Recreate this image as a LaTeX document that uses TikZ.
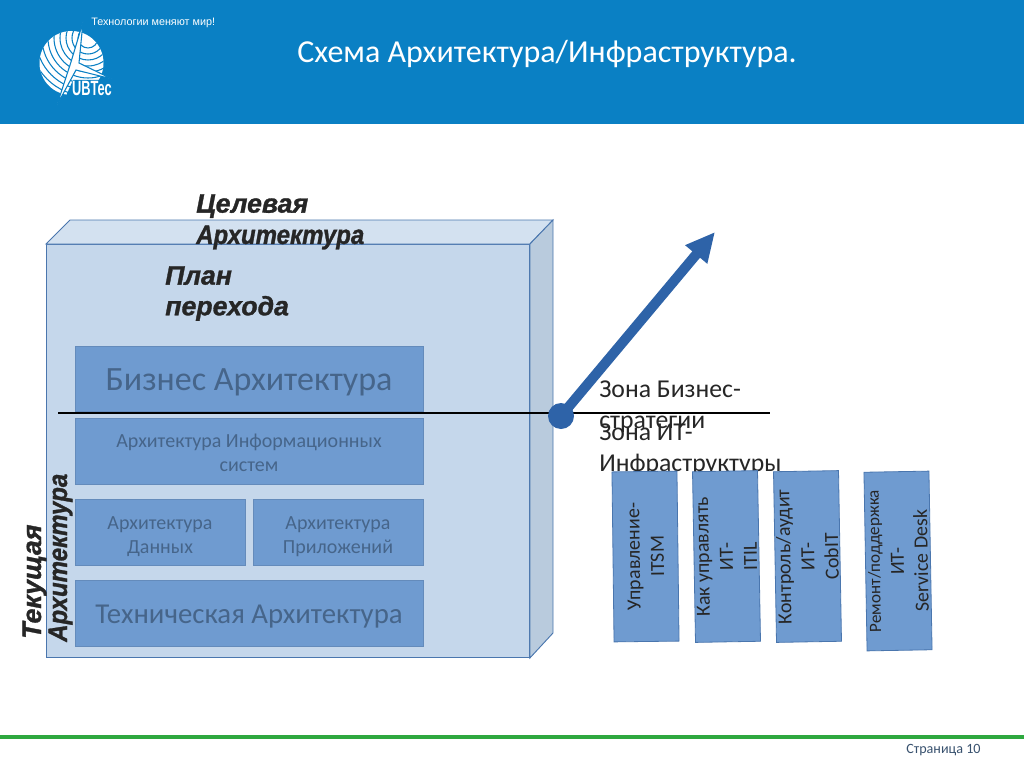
\documentclass[tikz,border=0pt]{standalone}
\usepackage{fontspec}
\usepackage{graphicx}
\setmainfont{Carlito}
\newfontfamily\headfont{Liberation Sans}
\newfontfamily\capfont[BoldItalicFeatures={FakeBold=1.2}]{Liberation Sans}
\usepackage{xcolor}
\usetikzlibrary{arrows.meta, positioning, calc}
\definecolor{headblue}{HTML}{0A80C4}
\definecolor{edgeblue}{HTML}{4A76AE}
\definecolor{frontblue}{HTML}{C5D7EB}
\definecolor{topblue}{HTML}{D3E1F0}
\definecolor{sideblue}{HTML}{B9CBDD}
\definecolor{layerblue}{HTML}{6F9BD0}
\definecolor{layertext}{HTML}{46658A}
\definecolor{dotblue}{HTML}{2E63A8}
\definecolor{darktext}{HTML}{262626}
\definecolor{footgreen}{HTML}{2EA83F}
\newcommand{\narrowcap}[1]{\scalebox{0.9}[1]{#1}}
\tikzset{
    layer/.style={rectangle, fill=layerblue, draw=layerblue!90!black, line width=0.4pt,
                  inner sep=0pt},
    layertxt/.style={align=center, text=layertext, inner sep=0pt},
    midfont/.style={font=\fontsize{15}{18}\selectfont},
    smallbox/.style={layer, align=center, text=darktext, minimum width=127.5pt, minimum height=48.75pt,
                  line width=0.6pt, draw=edgeblue, font=\fontsize{15}{18}\selectfont},
    slanted/.style={font=\capfont\bfseries\itshape\fontsize{20}{23.5}\selectfont,
                  text=darktext, align=left, inner sep=0pt},
    zone/.style={font=\fontsize{19.3}{23}\selectfont, text=darktext, align=left,
                  inner sep=0pt, anchor=north west},
    arr/.style={-{Triangle[length=22pt, width=20pt]}, line width=7.5pt, draw=dotblue}
}
\begin{document}
\begin{tikzpicture}[x=0.75pt, y=-0.75pt]
\useasboundingbox (0,0) rectangle (1024,767);
% ── Header ────────────────────────────────────────────────────────────
\fill[headblue] (0,0) rectangle (1024,124);
\node[text=white, anchor=west, inner sep=0pt, font=\headfont\fontsize{8.1}{9}\selectfont] at (91,23) (motto) {Технологии меняют мир!};
\node[text=white, anchor=west, inner sep=0pt, font=\fontsize{24}{28}\selectfont] at (297,54) (title) {Схема Архитектура/Инфраструктура.};

% ── Logo ──────────────────────────────────────────────────────────────
\fill[white] (71.5,63) circle (32);
\begin{scope}
  \clip (71.5,63) circle (32);
  \foreach \r in {10,16,...,76}
    \draw[headblue, line width=0.8pt] (88,38) circle (\r);
\end{scope}
\fill[headblue] (73,80) -- (112,80) -- (112,96) -- (66,96) -- cycle;
\draw[headblue, line width=0.8pt, fill=white] (83,22) -- (79,63) -- (112,79) -- (76,70) -- (57,105) -- (71,62) -- cycle;
\node[text=white, inner sep=0pt, font=\headfont\bfseries\fontsize{15.5}{16}\selectfont, xscale=0.62] at (92,88) (brand) {UBTec};

% ── Cube ──────────────────────────────────────────────────────────────
\node[rectangle, fill=frontblue, draw=edgeblue, line width=0.7pt, minimum width=362.25pt, minimum height=309.75pt, anchor=north west, inner sep=0pt] at (46,244) (front) {};
\path[fill=topblue, draw=edgeblue, line width=0.7pt] (front.north west) -- (70,220) -- (553,220) -- (front.north east) -- cycle;
\path[fill=sideblue, draw=edgeblue, line width=0.7pt] (front.north east) -- (553,220) -- (553,633) -- (front.south east) -- cycle;

% ── Layers ────────────────────────────────────────────────────────────
\node[layer, minimum width=261pt, minimum height=48.75pt] at (249,378.5) (business) {};
\node[layer, minimum width=261pt, minimum height=49.5pt] at (249,451) (infosys) {};
\node[layer, minimum width=127.5pt, minimum height=49.5pt] at (160,532) (data) {};
\node[layer, minimum width=127.5pt, minimum height=49.5pt] at (338,532) (apps) {};
\node[layer, minimum width=261pt, minimum height=49.5pt] at (249,613) (tech) {};

\node[layertxt, font=\fontsize{25.5}{30}\selectfont] at ([yshift=-3pt]business) (businesstxt) {Бизнес Архитектура};
\node[layertxt, midfont] at ([yshift=-1.5pt]infosys) (infosystxt) {Архитектура Информационных\\систем};
\node[layertxt, midfont] at ([yshift=-3.2pt]data) (datatxt) {Архитектура\\Данных};
\node[layertxt, midfont] at ([yshift=-3.2pt]apps) (appstxt) {Архитектура\\Приложений};
\node[layertxt, font=\fontsize{21.6}{26}\selectfont] at ([yshift=-3pt]tech) (techtxt) {Техническая Архитектура};

% ── Slanted captions ──────────────────────────────────────────────────
\node[slanted, anchor=north west] at (196,194) (target) {Целевая\\\narrowcap{Архитектура}};
\node[slanted, anchor=north west, font=\capfont\bfseries\itshape\fontsize{20}{23}\selectfont] at (165,266) (plan) {План\\перехода};
\node[slanted, anchor=base west, rotate=90] at (41,639) (current) {Текущая};
\node[slanted, anchor=base west, rotate=90] at (67,642) (currentb) {\narrowcap{Архитектура}};

% ── Zones ─────────────────────────────────────────────────────────────
\node[zone] at (599,380.5) (zbiz) {Зона Бизнес-\\стратегии};
\node[zone] at (599,424) (zit) {Зона ИТ-\\Инфраструктуры};

% ── Line, dot and arrow ───────────────────────────────────────────────
\coordinate (lineL) at (58,413);
\coordinate (lineR) at (770,413);
\coordinate (tip) at (715,232);
\draw[line width=1pt, black] (lineL) -- (lineR);
\node[circle, fill=dotblue, minimum size=19.5pt, inner sep=0pt] at (561,416) (dot) {};
\draw[arr] (dot.center) -- (tip);

% ── Process boxes ─────────────────────────────────────────────────────
\node[smallbox, rotate=90.7] at (645.5,556.5) (itsm) {Управление-\\ITSM};
\node[smallbox, rotate=91, minimum width=128pt] at (726.5,556.5) (itil) {Как управлять\\ИТ-\\ITIL};
\node[smallbox, rotate=91, minimum width=128pt] at (807.5,556.5) (cobit) {Контроль/аудит\\ИТ-\\CobIT};
\node[smallbox, rotate=91, minimum width=134pt] at (898,561) (desk) {{\fontsize{12.9}{18}\selectfont Ремонт/поддержка}\\ИТ-\\Service Desk};

% ── Footer ────────────────────────────────────────────────────────────
\fill[footgreen] (0,735) rectangle (1024,739);
\node[text=layertext!80!black, anchor=west, inner sep=0pt, font=\fontsize{10.6}{12}\selectfont] at (906,750) (page) {Страница 10};
\end{tikzpicture}
\end{document}
